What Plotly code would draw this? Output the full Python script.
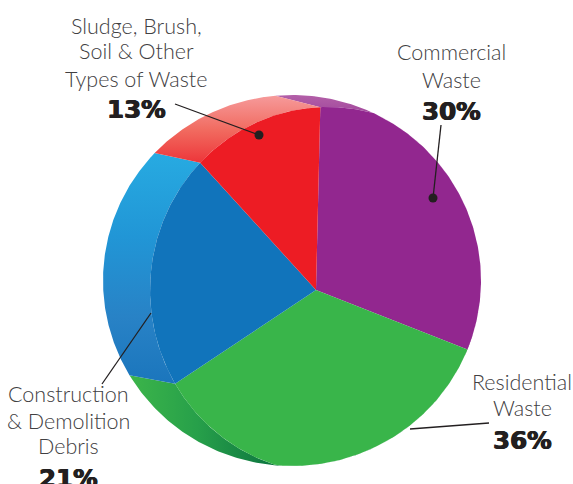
import numpy as np
import plotly.graph_objects as go

# Share of waste by source
categories = ["Commercial Waste", "Residential Waste",
              "Construction & Demolition Debris",
              "Sludge, Brush, Soil & Other Types of Waste"]
values = [30, 36, 21, 13]
face_colors = ["#92278f", "#39b54a", "#1174bb", "#ed1c24"]
label_lines = [["Commercial", "Waste"], ["Residential", "Waste"],
               ["Construction", "& Demolition", "Debris"],
               ["Sludge, Brush,", "Soil & Other", "Types of Waste"]]

W, H = 573, 484
APEX = np.array([316.0, 290.0])
EXTRUDE = np.array([-45.0, -9.0])
BACK_RIM = (292.0, 280.5, 189.0, 185.5)   # cx, cy, rx, ry
FRONT_RIM = (328.0, 290.0, 178.0, 183.0)
START_DEG = 1.5
TILT = 0.9                                # horizontal foreshortening of the disc


def ray_hit(origin, theta, rim):
    """Distance from origin along the clockwise-from-north angle theta to an elliptical rim."""
    cx, cy, rx, ry = rim
    dx, dy = np.sin(theta) / rx, -np.cos(theta) / ry
    ox, oy = (origin[0] - cx) / rx, (origin[1] - cy) / ry
    a = dx * dx + dy * dy
    b = 2 * (ox * dx + oy * dy)
    c = ox * ox + oy * oy - 1
    return (-b + np.sqrt(b * b - 4 * a * c)) / (2 * a)


def arc(origin, t0, t1, rims):
    thetas = np.linspace(t0, t1, 160)
    dist = np.min([ray_hit(origin, thetas, r) for r in rims], axis=0)
    return origin[0] + dist * np.sin(thetas), origin[1] - dist * np.cos(thetas)


plane = np.radians(START_DEG + np.r_[0, np.cumsum(values)] / sum(values) * 360)
edges = np.unwrap(np.arctan2(TILT * np.sin(plane), np.cos(plane)))

# Side wall shading, one gradient per slice
wall_gradients = [
    dict(type="vertical", start=95, stop=122, colorscale=[[0, "#b35fa8"], [1, "#9a3f97"]]),
    dict(type="horizontal", start=129, stop=280, colorscale=[[0, "#3cb54a"], [0.45, "#27a04a"], [1, "#0b723f"]]),
    dict(type="vertical", start=155, stop=387, colorscale=[[0, "#27aae1"], [0.35, "#2196d6"], [0.7, "#2882c6"], [1, "#1a75bc"]]),
    dict(type="vertical", start=96, stop=165, colorscale=[[0, "#f69a9a"], [0.5, "#f16a5f"], [1, "#ed3237"]]),
]

fig = go.Figure()
# Extruded walls: the band between the back rim and the clipped front rim of each slice
for i, name in enumerate(categories):
    bx, by = arc(APEX + EXTRUDE, edges[i], edges[i + 1], [BACK_RIM])
    fx, fy = arc(APEX, edges[i], edges[i + 1], [BACK_RIM, FRONT_RIM])
    fig.add_trace(go.Scatter(x=np.r_[bx, fx[::-1], bx[0]], y=np.r_[by, fy[::-1], by[0]],
                             mode="lines", fill="toself", name=name,
                             line=dict(width=0), fillgradient=wall_gradients[i],
                             hoverinfo="skip", showlegend=False))
# Front faces
for i, name in enumerate(categories):
    fx, fy = arc(APEX, edges[i], edges[i + 1], [BACK_RIM, FRONT_RIM])
    fig.add_trace(go.Scatter(x=np.r_[APEX[0], fx, APEX[0]], y=np.r_[APEX[1], fy, APEX[1]],
                             mode="lines", fill="toself", name=name,
                             line=dict(width=0), fillcolor=face_colors[i],
                             hovertemplate=f"{name}: {values[i]}%<extra></extra>",
                             showlegend=False))

# Leader lines from each label into its slice
leaders = [([441, 433], [125, 198], True), ([489, 410], [423, 429], False),
           ([102, 151], [384, 313], False), ([175, 259], [104, 135], True)]
for lx, ly, dot in leaders:
    fig.add_trace(go.Scatter(x=lx, y=ly, mode="lines", line=dict(color="#231f20", width=1.3),
                             hoverinfo="skip", showlegend=False))
    if dot:
        fig.add_trace(go.Scatter(x=lx[1:], y=ly[1:], mode="markers",
                                 marker=dict(color="#231f20", size=9),
                                 hoverinfo="skip", showlegend=False))

LABEL_FONT = dict(family="Lato", size=21.5, color="#414042", weight=300)
PCT_FONT = dict(family="DejaVu Sans", size=24.5, color="#231f20", weight=700,
                shadow="0.6px 0 0 #231f20, -0.6px 0 0 #231f20")
anchors = [(451, [52, 80], 111), (522, [382, 408], 440),
           (68, [394, 421, 446], 478), (136, [26, 51, 79], 109)]
annotations = []
for (cx, line_ys, pct_y), lines, val in zip(anchors, label_lines, values):
    for text, ty in zip(lines, line_ys):
        annotations.append(dict(x=cx, y=ty, text=text, showarrow=False, font=LABEL_FONT,
                                xanchor="center", yanchor="middle"))
    annotations.append(dict(x=cx, y=pct_y, text=f"{val}%", showarrow=False, font=PCT_FONT,
                            xanchor="center", yanchor="middle"))

fig.update_layout(
    width=W, height=H, margin=dict(l=0, r=0, t=0, b=0),
    paper_bgcolor="white", plot_bgcolor="white",
    xaxis=dict(range=[0, W], visible=False, fixedrange=True),
    yaxis=dict(range=[H, 0], visible=False, fixedrange=True),
    annotations=annotations, showlegend=False,
)
fig.write_html("out.html", config=dict(displayModeBar=False))
